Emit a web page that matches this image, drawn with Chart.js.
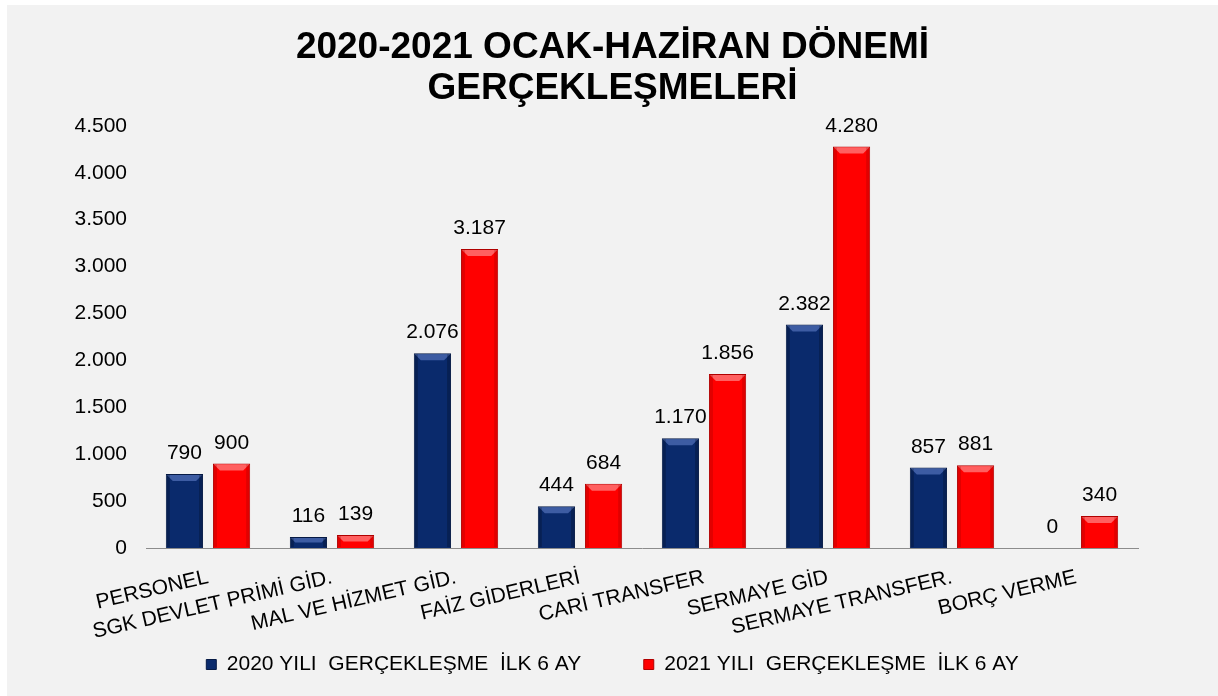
<!DOCTYPE html>
<html>
<head>
<meta charset="utf-8">
<script src="https://cdn.jsdelivr.net/npm/chart.js@4"></script>
<style>
  html, body { margin: 0; padding: 0; background: #ffffff; }
  #wrap { padding: 5px 0 0 7px; }
  canvas { display: block; background: #f2f2f2; }
</style>
</head>
<body>
<div id="wrap">
  <canvas id="chart" width="1211" height="691"></canvas>
</div>
<script>
const categories = ['PERSONEL', 'SGK DEVLET PRİMİ GİD.', 'MAL VE HİZMET GİD.', 'FAİZ GİDERLERİ',
  'CARİ TRANSFER', 'SERMAYE GİD', 'SERMAYE TRANSFER.', 'BORÇ VERME'];
const values2020 = [790, 116, 2076, 444, 1170, 2382, 857, 0];
const values2021 = [900, 139, 3187, 684, 1856, 4280, 881, 340];
const seriesNames = ['2020 YILI  GERÇEKLEŞME  İLK 6 AY', '2021 YILI  GERÇEKLEŞME  İLK 6 AY'];
const titleLines = ['2020-2021 OCAK-HAZİRAN DÖNEMİ', 'GERÇEKLEŞMELERİ'];

const FONT = '"Liberation Sans", Arial, sans-serif';
const fmt = v => String(v).replace(/\B(?=(\d{3})+(?!\d))/g, '.');

// bevel look of the bars: light strip on top, darker sides
const bevel = {
  id: 'bevel',
  afterDatasetsDraw(chart) {
    const ctx = chart.ctx;
    const tops = ['#3d5ca3', '#ff6060'];
    const sides = ['rgba(0,0,0,0.22)', 'rgba(120,0,0,0.22)'];
    chart.data.datasets.forEach((ds, i) => {
      chart.getDatasetMeta(i).data.forEach(bar => {
        const h = bar.base - bar.y;
        if (h < 2) return;
        const l = bar.x - bar.width / 2, r = bar.x + bar.width / 2;
        const d = Math.min(7, h / 2);
        ctx.save();
        ctx.fillStyle = tops[i];
        ctx.beginPath();
        ctx.moveTo(l + 1, bar.y + 1);
        ctx.lineTo(r - 1, bar.y + 1);
        ctx.lineTo(r - d, bar.y + d);
        ctx.lineTo(l + d, bar.y + d);
        ctx.closePath();
        ctx.fill();
        ctx.fillStyle = sides[i];
        ctx.fillRect(l + 1, bar.y + 1, 3, h - 2);
        ctx.fillRect(r - 4, bar.y + 1, 3, h - 2);
        ctx.restore();
      });
    });
  }
};

const valueLabels = {
  id: 'valueLabels',
  afterDatasetsDraw(chart) {
    const ctx = chart.ctx;
    ctx.save();
    ctx.font = '21px ' + FONT;
    ctx.fillStyle = '#000';
    ctx.textAlign = 'center';
    ctx.textBaseline = 'alphabetic';
    chart.data.datasets.forEach((ds, i) => {
      chart.getDatasetMeta(i).data.forEach((bar, j) => {
        ctx.fillText(fmt(ds.data[j]), bar.x, bar.y - 15);
      });
    });
    ctx.restore();
  }
};

new Chart(document.getElementById('chart'), {
  type: 'bar',
  data: {
    labels: categories,
    datasets: [
      {
        label: seriesNames[0],
        data: values2020,
        backgroundColor: '#0a2a6c',
        borderColor: '#061a45',
        borderWidth: 1,
        categoryPercentage: 0.76,
        barPercentage: 0.79
      },
      {
        label: seriesNames[1],
        data: values2021,
        backgroundColor: '#ff0000',
        borderColor: '#b00000',
        borderWidth: 1,
        categoryPercentage: 0.76,
        barPercentage: 0.79
      }
    ]
  },
  plugins: [bevel, valueLabels],
  options: {
    responsive: false,
    animation: false,
    layout: { padding: { left: 0, right: 0, top: 0, bottom: 11 } },
    plugins: {
      title: {
        display: true,
        text: titleLines,
        color: '#000',
        font: { family: FONT, size: 37, weight: 'bold', lineHeight: 1.12 },
        padding: { top: 22, bottom: 16 }
      },
      legend: {
        position: 'bottom',
        labels: {
          color: '#000',
          font: { family: FONT, size: 21 },
          boxWidth: 10,
          boxHeight: 10,
          padding: 10,
          generateLabels(chart) {
            const items = Chart.defaults.plugins.legend.labels.generateLabels(chart);
            items[0].text = items[0].text + '         ';
            return items;
          }
        }
      },
      tooltip: { enabled: false }
    },
    scales: {
      x: {
        grid: { display: false, drawTicks: false },
        border: { display: true, color: '#8c8c8c', width: 1 },
        ticks: {
          color: '#000',
          font: { family: FONT, size: 21 },
          minRotation: 13,
          maxRotation: 13,
          padding: 17,
          autoSkip: false
        },
        afterFit(scale) { scale.height = 96; }
      },
      y: {
        min: 0,
        max: 4500,
        grid: { display: false, drawTicks: false },
        border: { display: false },
        ticks: {
          stepSize: 500,
          color: '#000',
          font: { family: FONT, size: 21 },
          padding: 19,
          callback: v => fmt(v)
        },
        afterFit(scale) { scale.width = 139; }
      },
      // empty space on the right side of the plot
      spacer: {
        type: 'linear',
        position: 'right',
        grid: { display: false, drawTicks: false },
        border: { display: false },
        ticks: { display: false },
        afterFit(scale) { scale.width = 80; }
      }
    }
  }
});
</script>
</body>
</html>
